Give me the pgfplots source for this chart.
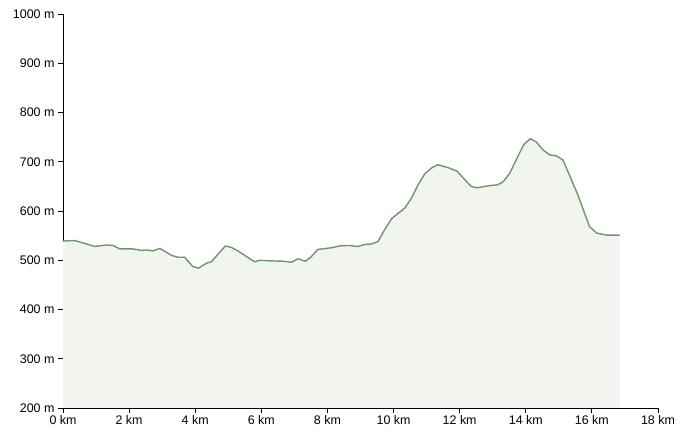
\documentclass[border=0pt]{standalone}
\usepackage{fontspec}
\setmainfont{Liberation Sans}
\usepackage{pgfplots}
\pgfplotsset{compat=1.18}
\usepackage{pgfplotstable}

\definecolor{profileline}{RGB}{112,148,110}
\definecolor{profilefill}{RGB}{241,244,239}

% distance (km), elevation (m)
\pgfplotstableread{
x y
0.00 539
0.35 540
0.56 536
0.96 528
1.31 531
1.51 530
1.72 523
2.12 523
2.37 520
2.52 521
2.72 519
2.93 524
3.28 510
3.48 506
3.68 506
3.93 487
4.10 484
4.34 494
4.49 497
4.91 529
5.09 526
5.29 519
5.70 501
5.80 497
5.95 500
6.15 499
6.65 498
6.91 496
7.11 503
7.33 498
7.51 507
7.71 522
7.97 524
8.17 526
8.37 529
8.62 530
8.92 528
9.13 532
9.33 533
9.53 538
9.73 562
9.95 585
10.34 606
10.54 626
10.74 653
10.94 675
11.14 687
11.34 694
11.65 688
11.92 681
12.15 664
12.35 650
12.52 647
12.76 650
12.96 652
13.14 653
13.31 659
13.51 676
13.71 704
13.94 735
14.14 747
14.32 740
14.52 724
14.72 714
14.92 712
15.12 704
15.32 673
15.58 632
15.93 568
16.15 555
16.44 551
16.84 551
}\profile

\begin{document}
\begin{tikzpicture}
\begin{axis}[
  scale only axis,
  width=595bp, height=394bp,
  xmin=0, xmax=18, ymin=200, ymax=1000,
  axis lines*=left,
  axis line style={black, line width=0.8pt},
  tick style={black, line width=0.8pt},
  tick align=outside,
  major tick length=5bp,
  xtick={0,2,...,18},
  xticklabels={0 km,2 km,4 km,6 km,8 km,10 km,12 km,14 km,16 km,18 km},
  ytick={200,300,...,1000},
  yticklabels={200 m,300 m,400 m,500 m,600 m,700 m,800 m,900 m,1000 m},
  tick label style={font=\fontsize{12.5}{14}\selectfont},
  xticklabel style={yshift=1bp},
  clip=true,
]
\addplot[fill=profilefill, draw=none] table[x=x, y=y] {\profile} \closedcycle;
\addplot[profileline, line width=1.4pt, line join=round] table[x=x, y=y] {\profile};
\coordinate (sw) at (rel axis cs:0,0);
\coordinate (ne) at (rel axis cs:1,1);
\end{axis}
\path ([shift={(-63bp,-31bp)}]sw) rectangle ([shift={(28bp,14bp)}]ne);
\end{tikzpicture}
\end{document}
